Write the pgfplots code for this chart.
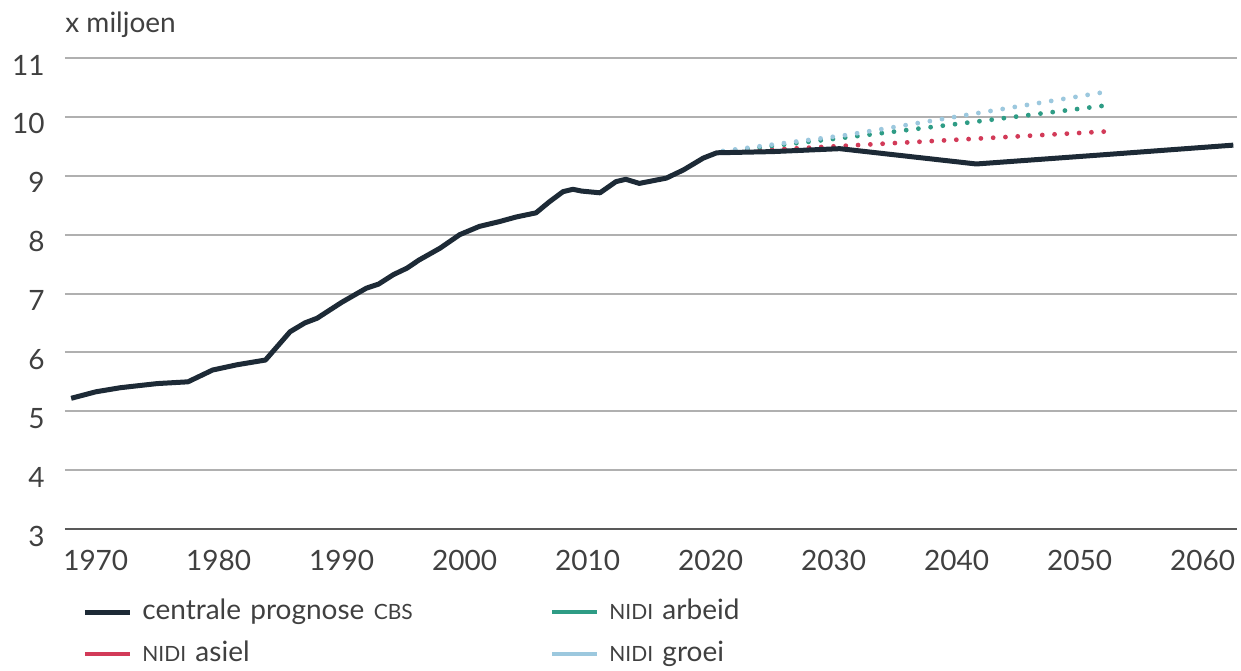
\documentclass[border=0pt]{standalone}
\usepackage{fontspec}
\setmainfont{Lato}
\usepackage{pgfplots}
\pgfplotsset{compat=1.18}
\definecolor{cbsnavy}{HTML}{1D2A36}
\definecolor{nidired}{HTML}{D23A58}
\definecolor{nidigreen}{HTML}{2E9C85}
\definecolor{nidiblue}{HTML}{9CC8DE}
\definecolor{gridgray}{HTML}{B0B0B0}
\newcommand{\smallcap}[1]{{\fontsize{10.5}{12}\selectfont #1}}

\begin{document}
\begin{tikzpicture}
\begin{axis}[
    name=a,
    scale only axis,
    width=586pt, height=235.5pt,
    xmin=1967.5, xmax=2062.8,
    ymin=3, ymax=11,
    xtick={1970,1980,...,2060},
    ytick={4,5,...,11},
    extra y ticks={3},
    extra y tick style={major grid style={draw=black!65, line width=1.3pt}},
    ymajorgrids,
    major grid style={draw=gridgray, line width=1pt},
    axis line style={draw=none},
    major tick length=0pt,
    font=\fontsize{14}{16}\selectfont,
    /pgf/number format/assume math mode=true,
    /pgf/number format/1000 sep={},
    tick label style={text=black!75},
    yticklabel style={anchor=east, inner sep=0pt, xshift=-10pt, yshift=-3.5pt},
    xticklabel style={anchor=north, inner sep=0pt, yshift=-10.5pt},
    ylabel={x miljoen},
    ylabel style={rotate=-90, at={(rel axis cs:0,1)}, anchor=base west,
                  yshift=12.5pt, inner sep=0pt, text=black!75},
    legend columns=2,
    legend cell align=left,
    legend image code/.code={\draw[#1] (0pt,0pt) -- (22.5pt,0pt);},
    legend style={draw=none, fill=none, inner sep=0pt,
        at={(rel axis cs:0,0)}, anchor=north west,
        xshift=8.5pt, yshift=-35pt,
        row sep=8pt,
        font=\fontsize{14}{16}\selectfont,
        text=black!75,
        nodes={inner sep=0pt, text height=10pt, text depth=3pt},
        /tikz/every odd column/.style={column sep=5pt},
        /tikz/every even column/.append style={text width=204pt, align=left}},
]
\addlegendimage{cbsnavy, line width=2.5pt}
\addlegendentry{centrale prognose \smallcap{CBS}}
\addlegendimage{nidigreen, line width=2pt}
\addlegendentry{\smallcap{NIDI} arbeid}
\addlegendimage{nidired, line width=2pt}
\addlegendentry{\smallcap{NIDI} asiel}
\addlegendimage{nidiblue, line width=2pt}
\addlegendentry{\smallcap{NIDI} groei}

% NIDI scenario's (stippellijnen)
\addplot[forget plot, nidired, line width=2.4pt, line cap=round,
         dash pattern=on 0pt off 6.15pt] coordinates {
    (2021,9.40) (2031,9.51) (2041.6,9.63) (2052,9.75)};
\addplot[forget plot, nidigreen, line width=2.4pt, line cap=round,
         dash pattern=on 0pt off 6.15pt] coordinates {
    (2021,9.41) (2031,9.65) (2041.6,9.92) (2052,10.19)};
\addplot[forget plot, nidiblue, line width=2.4pt, line cap=round,
         dash pattern=on 0pt off 6.15pt] coordinates {
    (2021,9.42) (2031,9.69) (2041.6,10.06) (2052,10.42)};

% centrale prognose CBS
\addplot[forget plot, cbsnavy, line width=2.5pt, line join=round] coordinates {
    (1968,5.22) (1970,5.33) (1972,5.40) (1975,5.47) (1977.5,5.50)
    (1979.5,5.70) (1981.5,5.79) (1983.8,5.87) (1985.8,6.35) (1987,6.50)
    (1988,6.58) (1990,6.85) (1992,7.09) (1993,7.16) (1994.2,7.32)
    (1995.3,7.43) (1996.3,7.57) (1998,7.77) (1999.6,8.00) (2001.2,8.14)
    (2002.8,8.22) (2004.2,8.30) (2005.8,8.37) (2006.9,8.56) (2008,8.73)
    (2008.8,8.77) (2009.5,8.74) (2011,8.71) (2012.3,8.90) (2013.1,8.94)
    (2014.2,8.87) (2016.4,8.96) (2017.8,9.10) (2019.4,9.30) (2020.5,9.39)
    (2025,9.41) (2030.5,9.46) (2041.6,9.20) (2051.5,9.35) (2062.5,9.52)};
\end{axis}
\pgfresetboundingbox
\path ([shift={(-32.5pt,-70.5pt)}]a.south west) rectangle ([shift={(2pt,29pt)}]a.north east);
\end{tikzpicture}
\end{document}
